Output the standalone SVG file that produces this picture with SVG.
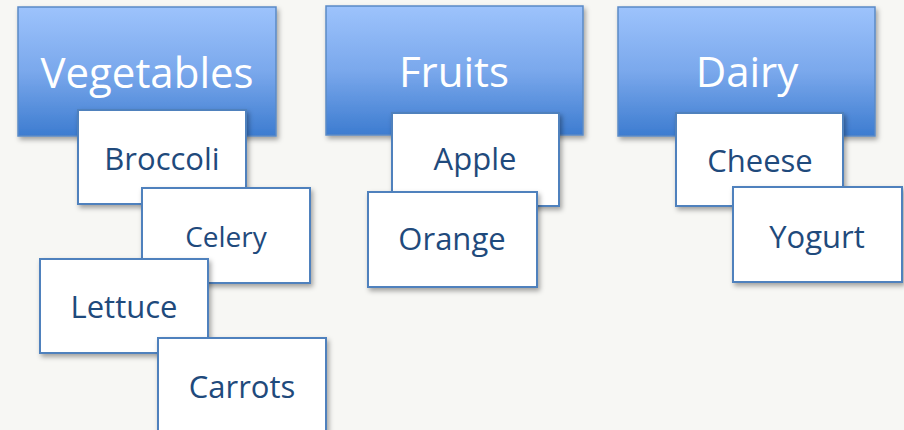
<svg xmlns="http://www.w3.org/2000/svg" width="904" height="430" viewBox="0 0 904 430">
<defs>
<linearGradient id="hg" x1="0" y1="0" x2="0" y2="1">
<stop offset="0" stop-color="#9dc3fc"/>
<stop offset="0.5" stop-color="#7aa8ec"/>
<stop offset="1" stop-color="#3d7cd0"/>
</linearGradient>
<filter id="sh" x="-10%" y="-10%" width="125%" height="130%">
<feDropShadow dx="2" dy="3" stdDeviation="2.5" flood-color="#000" flood-opacity="0.35"/>
</filter>
<style>
.hd{fill:url(#hg);stroke:#5b8ac6;stroke-width:1.5;filter:url(#sh)}
.bx{fill:#fff;stroke:#4f81bd;stroke-width:2;filter:url(#sh)}
.ht{font-family:"Open Sans","Noto Sans",sans-serif;font-size:42px;fill:#fff;text-anchor:middle}
.bt{font-family:"Open Sans","Noto Sans",sans-serif;font-size:31px;fill:#1f4a7c;text-anchor:middle}
</style>
</defs>
<rect width="904" height="430" fill="#f7f7f4"/>
<g id="connectors"/>
<g id="vegetables"><rect class="hd" x="18" y="7" width="258" height="129"/><text class="ht" x="147" y="88">Vegetables</text></g>
<g id="fruits"><rect class="hd" x="326" y="6" width="257" height="129"/><text class="ht" x="454" y="87">Fruits</text></g>
<g id="dairy"><rect class="hd" x="618" y="7" width="257" height="129"/><text class="ht" x="747" y="87">Dairy</text></g>
<g id="broccoli"><rect class="bx" x="78" y="110" width="168" height="94"/><text class="bt" x="162" y="170">Broccoli</text></g>
<g id="celery"><rect class="bx" x="142" y="188" width="168" height="95"/><text class="bt" x="226" y="247" style="font-size:28px">Celery</text></g>
<g id="lettuce"><rect class="bx" x="40" y="259" width="168" height="94"/><text class="bt" x="124" y="318">Lettuce</text></g>
<g id="carrots"><rect class="bx" x="158" y="338" width="168" height="100"/><text class="bt" x="242" y="398">Carrots</text></g>
<g id="apple"><rect class="bx" x="392" y="113" width="167" height="93"/><text class="bt" x="475" y="170">Apple</text></g>
<g id="orange"><rect class="bx" x="368" y="192" width="169" height="95"/><text class="bt" x="452" y="250">Orange</text></g>
<g id="cheese"><rect class="bx" x="676" y="113" width="167" height="93"/><text class="bt" x="760" y="172">Cheese</text></g>
<g id="yogurt"><rect class="bx" x="733" y="187" width="169" height="95"/><text class="bt" x="817" y="248">Yogurt</text></g>
</svg>
